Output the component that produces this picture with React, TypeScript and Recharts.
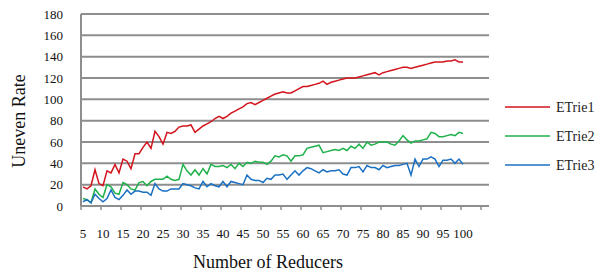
import { LineChart, Line, XAxis, YAxis, CartesianGrid, Legend } from "recharts";

const reducers = [
  5, 6, 7, 8, 9, 10, 11, 12, 13, 14, 15, 16, 17, 18, 19, 20, 21, 22, 23, 24,
  25, 26, 27, 28, 29, 30, 31, 32, 33, 34, 35, 36, 37, 38, 39, 40, 41, 42, 43, 44,
  45, 46, 47, 48, 49, 50, 51, 52, 53, 54, 55, 56, 57, 58, 59, 60, 61, 62, 63, 64,
  65, 66, 67, 68, 69, 70, 71, 72, 73, 74, 75, 76, 77, 78, 79, 80, 81, 82, 83, 84,
  85, 86, 87, 88, 89, 90, 91, 92, 93, 94, 95, 96, 97, 98, 99, 100,
];

const etrie1 = [
  18, 16, 19, 34, 21, 19, 33, 31, 39, 31, 44, 42, 35, 49, 49, 55, 60, 54, 70, 65,
  58, 69, 68, 70, 74, 75, 75, 76, 69, 72, 75, 77, 79, 82, 84, 82, 84, 87, 89, 91,
  93, 96, 97, 95, 97, 99, 101, 103, 105, 106, 107, 106, 106, 108, 110, 112, 112, 113, 114, 115,
  117, 114, 116, 117, 118, 119, 120, 120, 120, 121, 122, 123, 124, 125, 123, 125, 126, 127, 128, 129,
  130, 130, 129, 130, 131, 132, 133, 134, 135, 135, 135, 136, 136, 137, 135, 135,
];

const etrie2 = [
  7, 6, 3, 16, 11, 8, 20, 18, 12, 11, 22, 20, 16, 15, 22, 23, 19, 23, 25, 25,
  25, 28, 25, 24, 25, 39, 33, 29, 34, 29, 35, 30, 39, 37, 37, 38, 36, 39, 35, 40,
  37, 41, 40, 42, 41, 41, 39, 42, 47, 46, 48, 47, 42, 47, 47, 48, 54, 55, 56, 57,
  50, 51, 52, 53, 52, 54, 52, 56, 54, 58, 54, 60, 57, 58, 60, 60, 60, 58, 57, 61,
  66, 62, 59, 61, 61, 62, 63, 69, 68, 65, 65, 66, 67, 66, 69, 68,
];

const etrie3 = [
  4, 6, 3, 11, 7, 4, 7, 15, 8, 6, 10, 15, 11, 14, 14, 13, 13, 10, 21, 16,
  14, 14, 16, 16, 16, 21, 20, 19, 17, 16, 23, 18, 21, 19, 18, 23, 18, 23, 22, 21,
  20, 29, 25, 24, 24, 22, 26, 25, 29, 29, 30, 25, 29, 33, 29, 33, 36, 35, 33, 31,
  34, 32, 33, 33, 34, 30, 29, 36, 36, 37, 32, 38, 36, 36, 34, 38, 36, 37, 38, 38,
  39, 40, 29, 44, 37, 44, 44, 46, 44, 37, 43, 43, 44, 40, 44, 39,
];

const xLabels = [5, 10, 15, 20, 25, 30, 35, 40, 45, 50, 55, 60, 65, 70, 75, 80, 85, 90, 95, 100];
// tick marks sit between categories, like Excel's category axis
const xTickMarks = [4.5, 9.5, 14.5, 19.5, 24.5, 29.5, 34.5, 39.5, 44.5, 49.5, 54.5, 59.5, 64.5, 69.5, 74.5, 79.5, 84.5, 89.5, 94.5, 99.5, 104.5];
const yTicks = [0, 20, 40, 60, 80, 100, 120, 140, 160, 180];

const series = [
  { key: "etrie1", name: "ETrie1", color: "#d3141c" },
  { key: "etrie2", name: "ETrie2", color: "#1fb14b" },
  { key: "etrie3", name: "ETrie3", color: "#1a70c2" },
];

const chartData = reducers.map((r, i) => ({
  reducers: r,
  etrie1: etrie1[i],
  etrie2: etrie2[i],
  etrie3: etrie3[i],
}));

const FONT = "Times New Roman, Liberation Serif, Tinos, DejaVu Serif, serif";
const GRID = "#8e8e8e";

const allXTicks = [...xTickMarks, ...xLabels].sort((a, b) => a - b);

function XTick(props: any) {
  const { x, y, payload } = props;
  const v = payload.value;
  if (v % 1 !== 0) {
    return <line x1={x} x2={x} y1={y} y2={y + 4} stroke={GRID} strokeWidth={1.5} />;
  }
  return (
    <text x={x} y={y + 32} textAnchor="middle" fontFamily={FONT} fontSize={13} fill="#111">
      {v}
    </text>
  );
}

function LegendBox() {
  return (
    <svg width={100} height={90}>
      {series.map((s, i) => (
        <g key={s.key}>
          <line x1={5} x2={50} y1={15 + i * 29} y2={15 + i * 29} stroke={s.color} strokeWidth={1.5} />
          <text x={56} y={15 + i * 29} dy="0.35em" fontFamily={FONT} fontSize={14} fill="#222">
            {s.name}
          </text>
        </g>
      ))}
    </svg>
  );
}

export default function App() {
  return (
    <div style={{ position: "absolute", left: 0, top: 0, width: 601, height: 275, background: "#fff" }}>
      <LineChart
        width={601}
        height={275}
        data={chartData}
        margin={{ top: 14, right: 112, left: 0, bottom: 0 }}
        style={{ fontFamily: FONT }}
      >
        <CartesianGrid vertical={false} stroke={GRID} strokeWidth={2} />
        <XAxis
          dataKey="reducers"
          type="number"
          domain={[4.5, 106.5]}
          ticks={allXTicks}
          interval={0}
          allowDataOverflow
          height={69}
          tickSize={0}
          tickMargin={0}
          tickLine={false}
          axisLine={{ stroke: GRID, strokeWidth: 2 }}
          tick={<XTick />}
        />
        <YAxis
          domain={[0, 180]}
          ticks={yTicks}
          interval={0}
          width={81}
          tickSize={0}
          tickMargin={18}
          tickLine={false}
          axisLine={{ stroke: GRID, strokeWidth: 2 }}
          tick={{ fontSize: 13, fill: "#111", fontFamily: FONT }}
          label={{
            content: () => (
              <text
                x={25}
                y={121}
                transform="rotate(-90 25 121)"
                textAnchor="middle"
                fontFamily={FONT}
                fontSize={18}
                fill="#111"
              >
                Uneven Rate
              </text>
            ),
          }}
        />
        <Legend
          layout="vertical"
          align="center"
          verticalAlign="middle"
          wrapperStyle={{ left: 500, top: 92, width: 100 }}
          content={() => <LegendBox />}
        />
        {series.map((s) => (
          <Line
            key={s.key}
            type="linear"
            dataKey={s.key}
            name={s.name}
            stroke={s.color}
            strokeWidth={1.5}
            dot={false}
            isAnimationActive={false}
          />
        ))}
        <text x={268} y={268} textAnchor="middle" fontFamily={FONT} fontSize={18} fill="#111">
          Number of Reducers
        </text>
      </LineChart>
    </div>
  );
}
